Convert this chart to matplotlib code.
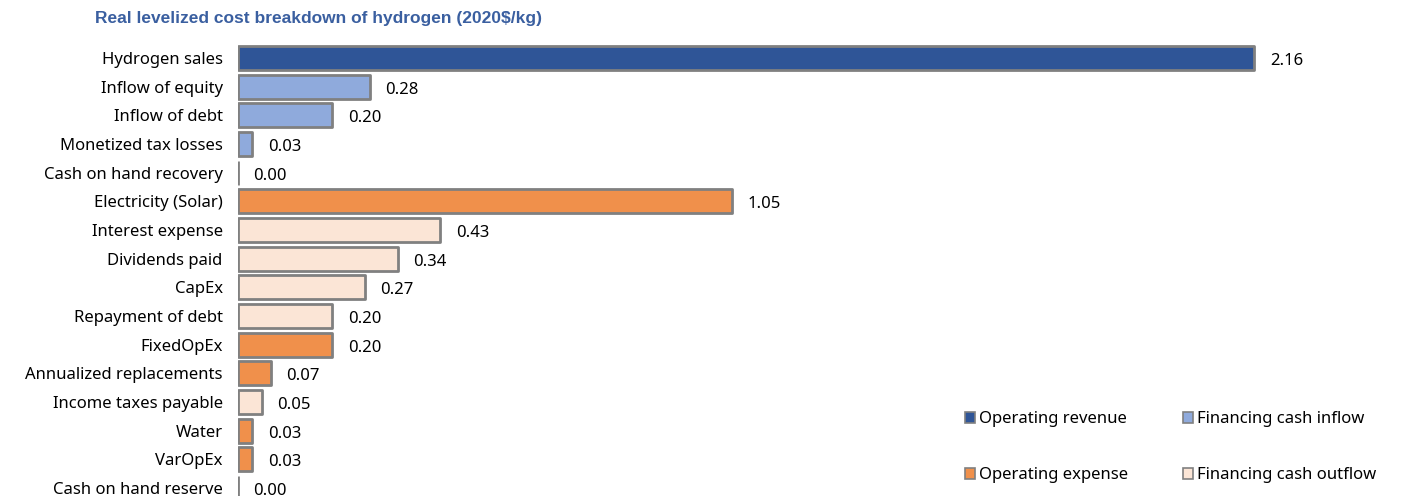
import matplotlib.pyplot as plt
from matplotlib.patches import Patch

plt.rcParams['font.family'] = ['Noto Sans', 'DejaVu Sans']

categories = ['Hydrogen sales', 'Inflow of equity', 'Inflow of debt', 'Monetized tax losses',
              'Cash on hand recovery', 'Electricity (Solar)', 'Interest expense', 'Dividends paid',
              'CapEx', 'Repayment of debt', 'FixedOpEx', 'Annualized replacements',
              'Income taxes payable', 'Water', 'VarOpEx', 'Cash on hand reserve']
values = [2.16, 0.28, 0.20, 0.03, 0.00, 1.05, 0.43, 0.34, 0.27, 0.20, 0.20, 0.07,
          0.05, 0.03, 0.03, 0.00]
groups = ['rev', 'in', 'in', 'in', 'in', 'exp', 'out', 'out', 'out', 'out', 'exp', 'exp',
          'out', 'exp', 'exp', 'out']

colors = {'rev': '#2F5597', 'in': '#8FAADC', 'exp': '#F0904B', 'out': '#FBE5D6'}
names = {'rev': 'Operating revenue', 'in': 'Financing cash inflow',
         'exp': 'Operating expense', 'out': 'Financing cash outflow'}

fig = plt.figure(figsize=(14.05, 4.96), dpi=100)
ax = fig.add_axes([238 / 1405, 0, 1 - 238 / 1405, 456 / 496])

ypos = list(range(len(categories)))
bars = ax.barh(ypos, values, height=0.84, color=[colors[g] for g in groups],
               edgecolor='#808080', linewidth=2.0)
for b in bars:
    b.set_joinstyle('round')
for y, v in zip(ypos, values):
    ax.text(v + 0.033, y + 0.1, f'{v:.2f}', va='center', ha='left', fontsize=12)

ax.set_yticks(ypos)
ax.set_yticklabels(categories, fontsize=12)
ax.tick_params(axis='y', length=0, pad=11)
ax.set_xticks([])
ax.set_xlim(0, 2.48)
ax.set_ylim(15.28, -0.628)
for s in ax.spines.values():
    s.set_visible(False)

fig.text(95 / 1405, 1 - 19 / 496, 'Real levelized cost breakdown of hydrogen (2020$/kg)',
         fontsize=12.5, fontweight='bold', color='#3A5FA0', va='center',
         family=['Liberation Sans', 'DejaVu Sans'])

handles = [Patch(facecolor=colors[k], edgecolor='#808080', linewidth=1.2, label=names[k])
           for k in ['rev', 'exp', 'in', 'out']]
fig.legend(handles=handles, ncol=2, loc='lower left', bbox_to_anchor=(950 / 1405, -0.005),
           frameon=False, fontsize=12, handlelength=0.6, handleheight=0.6,
           handletextpad=0.25, columnspacing=3.3, labelspacing=2.4)

fig.savefig('out.png', dpi=100)
